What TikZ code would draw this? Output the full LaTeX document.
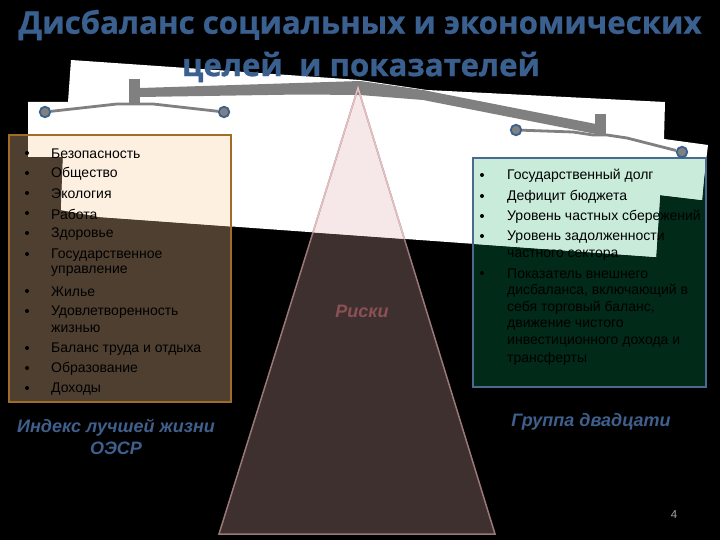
\documentclass[tikz,border=0pt]{standalone}
\usepackage{fontspec}
\setmainfont{Liberation Sans}
\newfontfamily\titlefont[BoldFeatures={FakeBold=0.8}]{Open Sans}
\definecolor{titleblue}{HTML}{3A6090}
\definecolor{labelblue}{HTML}{3F5F8C}
\definecolor{lboxlight}{HTML}{FEF0E0}
\definecolor{lboxdark}{HTML}{4F3F30}
\definecolor{lboxline}{HTML}{A06C28}
\definecolor{rboxlight}{HTML}{C9EBDA}
\definecolor{rboxdark}{HTML}{012A18}
\definecolor{rboxline}{HTML}{4A6A8F}
\definecolor{pyrlight}{HTML}{F6E8E8}
\definecolor{pyrdark}{HTML}{3F3030}
\definecolor{pyrline}{HTML}{9A7878}
\definecolor{pyrlinelight}{HTML}{E3BFC0}
\definecolor{riskred}{HTML}{8A5055}
\definecolor{beamgrey}{HTML}{808080}
\tikzset{
  x=1pt,y=-1pt,
  ttl/.style={font=\titlefont\bfseries\fontsize{31.2}{31}\selectfont,text=titleblue,inner sep=0pt,yshift=-1pt},
  txt/.style={font=\fontsize{14}{14}\selectfont,text=black,inner sep=0pt,anchor=west,yshift=-1pt},
  bull/.style={circle,fill=black,inner sep=0pt,minimum size=4pt},
  captext/.style={font=\bfseries\itshape\fontsize{18}{18}\selectfont,text=labelblue,inner sep=0pt,yshift=-1.5pt},
  ball/.style={circle,draw=titleblue,line width=1.8pt,fill=beamgrey,inner sep=0pt,minimum size=10.5pt},
  wire/.style={draw=beamgrey,line width=2.8pt,line join=round}
}
\begin{document}
\begin{tikzpicture}
\useasboundingbox (0,0) rectangle (720,540);
\fill[black] (0,0) rectangle (720,540);
% dark layer
\fill[lboxdark] (9,135) rectangle (231,402);
\fill[rboxdark] (473,158) rectangle (706,387);
\fill[pyrdark] (358,88) -- (495,534) -- (219,534) -- cycle;
% white layer
\def\whitepoly{(71,60) -- (360,80) -- (427,90) -- (665,102) -- (664,139) -- (708,145) -- (704,178) -- (702,200) -- (660,195) -- (658,227) -- (656,257) -- (100,217) -- (61,210) -- (63,157) -- (28,157) -- (28,102) -- (68,102) -- cycle}
\fill[white] \whitepoly;
\begin{scope}
  \clip \whitepoly;
  \fill[lboxlight] (9,135) rectangle (231,402);
  \fill[rboxlight] (473,158) rectangle (706,387);
  \fill[pyrlight] (358,88) -- (495,534) -- (219,534) -- cycle;
\end{scope}
\draw[lboxline,line width=1.5pt] (9,135) rectangle (231,402);
\draw[rboxline,line width=1.5pt] (473,158) rectangle (706,387);
% beam
\fill[beamgrey] (140,88) -- (360,81) -- (423,90) -- (596,124) -- (596,134) -- (423,100) -- (360,95) -- (300,94.5) -- (140,97) -- cycle;
\fill[beamgrey] (129,79) rectangle (140,103);
\fill[beamgrey] (595,114) rectangle (606,135);
% pyramid outline
\draw[pyrline,line width=1.5pt,line join=miter] (358,88) -- (495,534) -- (219,534) -- cycle;
\begin{scope}
  \clip \whitepoly;
  \draw[pyrlinelight,line width=1.5pt] (358,88) -- (495,534) -- (219,534) -- cycle;
\end{scope}
% wires
\node[ball] (la) at (45,112) {};
\node[ball] (lb) at (224,112) {};
\node[ball] (ra) at (516,130) {};
\node[ball] (rb) at (682,152) {};
\draw[wire] (la) -- (117,104) -- (153,104) -- (lb);
\draw[wire] (ra) -- (573,132) -- (593,135) -- (607,135) -- (627,138) -- (rb);
% title
\node[ttl] (t1) at (360,24) {Дисбаланс социальных и экономических};
\node[ttl] (t2) at (361,66) {целей\ \ и показателей};
% left list
\node[txt] (l1) at (51,153) {Безопасность};
\node[txt] (l2) at (51,173) {Общество};
\node[txt] (l3) at (51,193) {Экология};
\node[txt] (l4) at (51,213) {Работа};
\node[txt] (l5) at (51,233) {Здоровье};
\node[txt] (l6) at (51,254) {Государственное};
\node[txt] (l6b) at (51,270) {управление};
\node[txt] (l7) at (51,291) {Жилье};
\node[txt] (l8) at (51,311) {Удовлетворенность};
\node[txt] (l8b) at (51,328) {жизнью};
\node[txt] (l9) at (51,348) {Баланс труда и отдыха};
\node[txt] (l10) at (51,368) {Образование};
\node[txt] (l11) at (51,388) {Доходы};
\foreach \yy/\nm in {153/a,173/b,193/c,213/d,233/e,254/f,291/g,311/h,348/i,368/j,388/k}
  \node[bull] (lb\nm) at (27,\yy) {};
% right list
\node[txt] (r1) at (507,175) {Государственный долг};
\node[txt] (r2) at (507,196) {Дефицит бюджета};
\node[txt] (r3) at (507,216) {Уровень частных сбережений};
\node[txt] (r4) at (507,236) {Уровень задолженности};
\node[txt] (r4b) at (507,254) {частного сектора};
\node[txt] (r5) at (507,273) {Показатель внешнего};
\node[txt] (r5b) at (507,290) {дисбаланса, включающий в};
\node[txt] (r5c) at (507,307) {себя торговый баланс,};
\node[txt] (r5d) at (507,324) {движение чистого};
\node[txt] (r5e) at (507,341) {инвестиционного дохода и};
\node[txt] (r5f) at (507,358) {трансферты};
\foreach \yy/\nm in {175/a,196/b,216/c,236/d,273/e}
  \node[bull] (rb\nm) at (482,\yy) {};
% captions
\node[captext] (c1) at (116,426) {Индекс лучшей жизни};
\node[captext] (c2) at (116,447) {ОЭСР};
\node[captext] (c3) at (591,420) {Группа двадцати};
\node[captext,text=riskred] (c4) at (362,310) {Риски};
\node[font=\fontsize{11.5}{11.5}\selectfont,text=black!35,inner sep=0pt] (pg) at (674,515) {4};
\end{tikzpicture}
\end{document}
